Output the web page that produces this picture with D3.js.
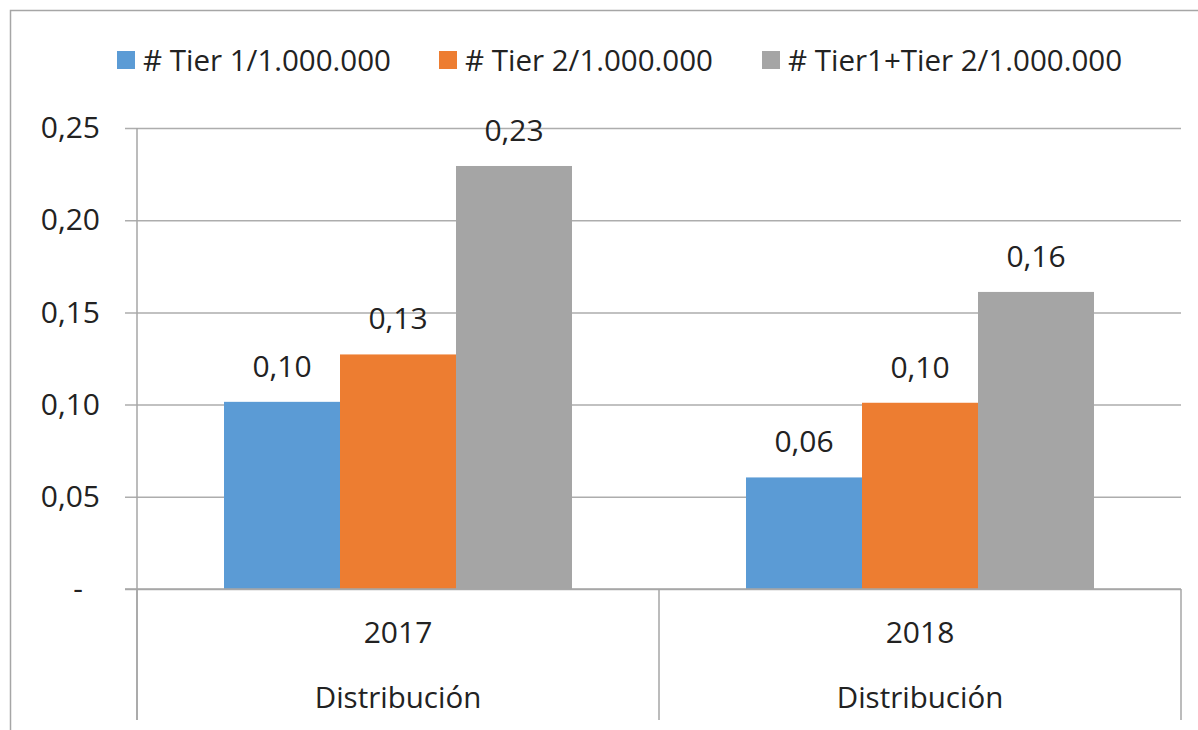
<!DOCTYPE html>
<html>
<head>
<meta charset="utf-8">
<script src="https://cdn.jsdelivr.net/npm/d3@7"></script>
<style>
  body { margin: 0; background: #fff; }
  svg text { font-family: "Open Sans", sans-serif; fill: #222; }
</style>
</head>
<body>
<div id="chart"></div>
<script>
(function() {

	// data
	var categories = ["2017", "2018"];
	var groupLabel = "Distribución";
	var seriesNames = ["# Tier 1/1.000.000", "# Tier 2/1.000.000", "# Tier1+Tier 2/1.000.000"];
	var tier1 = [0.1015, 0.0605];
	var tier2 = [0.1272, 0.1010];
	var tierSum = [0.2294, 0.1611];
	var yTicks = [0, 0.05, 0.10, 0.15, 0.20, 0.25];
	var colors = ["#5B9BD5", "#ED7D31", "#A5A5A5"];

	var series = [tier1, tier2, tierSum];

	var width = 1198, height = 730;
	var plot = { left: 137, right: 1181, top: 128, bottom: 589 };

	var svg = d3.select("#chart")
		.append("svg")
		.attr("width", width)
		.attr("height", height);

	// outer chart border (only top and left fall inside the picture)
	svg.append("rect")
		.attr("x", 10.5).attr("y", 10.5)
		.attr("width", width).attr("height", height)
		.attr("fill", "none")
		.attr("stroke", "#A6A6A6")
		.attr("stroke-width", 1.5);

	var y = d3.scaleLinear()
		.domain([0, 0.25])
		.range([plot.bottom, plot.top]);

	var x0 = d3.scaleBand()
		.domain(categories)
		.range([plot.left, plot.right])
		.padding(0);

	var x1 = d3.scaleBand()
		.domain(d3.range(series.length))
		.range([0, x0.bandwidth()])
		.paddingInner(0)
		.paddingOuter(0.75);

	var fmt = function(v) { return d3.format(".2f")(v).replace(".", ","); };

	//gridlines + y labels
	var yAxis = d3.axisLeft(y)
		.tickValues(yTicks)
		.tickSize(-(plot.right - 125))
		.tickPadding(25)
		.tickFormat(function(d) { return d === 0 ? "-" : fmt(d); });

	var gy = svg.append("g")
		.attr("transform", "translate(125,0)")
		.call(yAxis);
	gy.select(".domain").remove();
	gy.selectAll(".tick line")
		.attr("stroke", "#ADADAD")
		.attr("stroke-width", 1.5);
	gy.selectAll(".tick text")
		.style("font-size", "30px")
		.attr("fill", "#222")
		.attr("x", function(d) { return d === 0 ? -42 : -25; });

	// bars
	var groups = svg.append("g").selectAll("g")
		.data(categories)
		.enter().append("g")
		.attr("transform", function(d) { return "translate(" + x0(d) + ",0)"; });

	groups.selectAll("rect")
		.data(function(c, ci) { return series.map(function(s, si) { return { si: si, v: s[ci] }; }); })
		.enter().append("rect")
		.attr("x", function(d) { return x1(d.si); })
		.attr("width", x1.bandwidth())
		.attr("y", function(d) { return y(d.v); })
		.attr("height", function(d) { return y(0) - y(d.v); })
		.attr("fill", function(d) { return colors[d.si]; });

	groups.selectAll("text.value")
		.data(function(c, ci) { return series.map(function(s, si) { return { si: si, v: s[ci] }; }); })
		.enter().append("text")
		.attr("class", "value")
		.attr("x", function(d) { return x1(d.si) + x1.bandwidth() / 2; })
		.attr("y", function(d) { return y(d.v) - 25; })
		.attr("text-anchor", "middle")
		.style("font-size", "30px")
		.text(function(d) { return fmt(d.v); });

	// vertical axis line
	svg.append("line")
		.attr("x1", plot.left).attr("x2", plot.left)
		.attr("y1", plot.top).attr("y2", 720)
		.attr("stroke", "#A6A6A6").attr("stroke-width", 1.5);

	// category separators (multi-level axis)
	var bounds = categories.map(function(c) { return x0(c); }).concat([plot.right]);
	svg.append("g").selectAll("line")
		.data(bounds)
		.enter().append("line")
		.attr("x1", function(d) { return d; }).attr("x2", function(d) { return d; })
		.attr("y1", plot.bottom).attr("y2", 720)
		.attr("stroke", "#A6A6A6").attr("stroke-width", 1.5);

	svg.append("line")
		.attr("x1", 125).attr("x2", plot.right)
		.attr("y1", plot.bottom).attr("y2", plot.bottom)
		.attr("stroke", "#A6A6A6").attr("stroke-width", 1.5);

	var xAxis = d3.axisBottom(x0).tickSize(0).tickPadding(33);
	var gx = svg.append("g")
		.attr("transform", "translate(0," + plot.bottom + ")")
		.call(xAxis);
	gx.select(".domain").remove();
	gx.selectAll(".tick text")
		.style("font-size", "30px")
		.attr("fill", "#222");

	svg.append("g").selectAll("text")
		.data(categories)
		.enter().append("text")
		.attr("x", function(d) { return x0(d) + x0.bandwidth() / 2; })
		.attr("y", 708)
		.attr("text-anchor", "middle")
		.style("font-size", "29.5px")
		.text(groupLabel);

	// legend
	var legendX = [117, 439, 762];
	var legend = svg.append("g").selectAll("g")
		.data(seriesNames)
		.enter().append("g")
		.attr("transform", function(d, i) { return "translate(" + legendX[i] + ",51)"; });
	legend.append("rect")
		.attr("width", 18).attr("height", 18)
		.attr("fill", function(d, i) { return colors[i]; });
	legend.append("text")
		.attr("x", 26).attr("y", 19.5)
		.style("font-size", "29.5px")
		.text(function(d) { return d; });

})();
</script>
</body>
</html>
